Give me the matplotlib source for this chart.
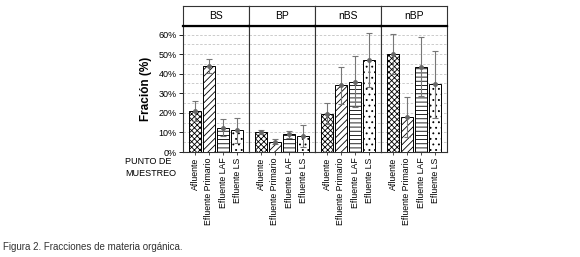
import numpy as np
import matplotlib
matplotlib.use('Agg')
import matplotlib.pyplot as plt

plt.rcParams['font.family'] = ['Liberation Sans', 'DejaVu Sans']
plt.rcParams['hatch.linewidth'] = 0.6

# data (fractions in %)
panels = ['BS', 'BP', 'nBS', 'nBP']
puntos = ['Afluente', 'Efluente Primario', 'Efluente LAF', 'Efluente LS']
fraccion = {
    'BS': [21.0, 44.0, 12.5, 11.0],
    'BP': [10.2, 5.3, 9.0, 8.2],
    'nBS': [19.5, 34.0, 36.0, 47.0],
    'nBP': [50.0, 18.0, 43.5, 34.5],
}
error = {
    'BS': [5.0, 3.5, 4.5, 6.5],
    'BP': [1.2, 1.3, 1.7, 5.5],
    'nBS': [5.3, 9.5, 13.0, 14.0],
    'nBP': [10.2, 10.3, 15.0, 17.0],
}
hatches = ['xxxxxx', '/////', '----', '...']

W, H = 580, 257
fig = plt.figure(figsize=(W / 100, H / 100), dpi=100)

left, right = 183, 447
top_hdr, top_ax, bottom_ax = 6, 25.5, 152
pw = (right - left) / len(panels)
x = np.arange(len(puntos))

for k, p in enumerate(panels):
    x0 = (left + k * pw) / W
    ax = fig.add_axes([x0, 1 - bottom_ax / H, pw / W, (bottom_ax - top_ax) / H])
    hx = fig.add_axes([x0, 1 - top_ax / H, pw / W, (top_ax - top_hdr) / H])

    for i in range(len(puntos)):
        ax.bar(x[i], fraccion[p][i], width=0.88, color='white', edgecolor='black',
               hatch=hatches[i], linewidth=0.7, zorder=3)
    ax.errorbar(x, fraccion[p], yerr=error[p], fmt='o', ms=2.5, color='#666666',
                ecolor='#777777', elinewidth=0.8, capsize=2.5, capthick=0.8, zorder=4)

    ax.set_xlim(-0.857, 3.857)
    ax.set_ylim(0, 64.6)
    ax.set_yticks(np.arange(0, 61, 10))
    ax.set_yticks(np.arange(0, 61, 5), minor=True)
    ax.yaxis.grid(True, which='both', linestyle=(0, (3, 2)), color='#c4c4c4', linewidth=0.6, zorder=0)
    ax.set_xticks(x)
    ax.set_xticklabels(puntos, rotation=90, fontsize=6.3)
    ax.tick_params(axis='x', length=2.5, width=0.6, pad=1.5, colors='#333333')
    ax.tick_params(axis='x', labelcolor='black')
    if k == 0:
        ax.set_yticklabels(['{}%'.format(v) for v in range(0, 61, 10)], fontsize=6.5)
        ax.tick_params(axis='y', length=3, width=0.6, pad=1.5)
        ax.tick_params(axis='y', which='minor', length=0)
        ax.set_ylabel('Fración (%)', fontsize=8.5, fontweight='bold', labelpad=5)
    else:
        ax.tick_params(axis='y', which='both', left=False, labelleft=False)
    for s in ax.spines.values():
        s.set_color('#333333')
        s.set_linewidth(0.8)

    hx.set_xticks([])
    hx.set_yticks([])
    for s in hx.spines.values():
        s.set_color('#333333')
        s.set_linewidth(0.8)
    hx.spines['bottom'].set_linewidth(1.6)
    hx.spines['bottom'].set_color('black')
    hx.text(0.5, 0.5, p, ha='center', va='center', fontsize=7.5, transform=hx.transAxes)

fig.text(125 / W, 1 - 157.5 / H, 'PUNTO DE\nMUESTREO', ha='left', va='top', fontsize=6.5,
         linespacing=1.35)
fig.text(3 / W, 1 - 247.5 / H, 'Figura 2. Fracciones de materia orgánica.', ha='left',
         va='center', fontsize=7, color='#333333')

fig.savefig('out.png', dpi=100)
